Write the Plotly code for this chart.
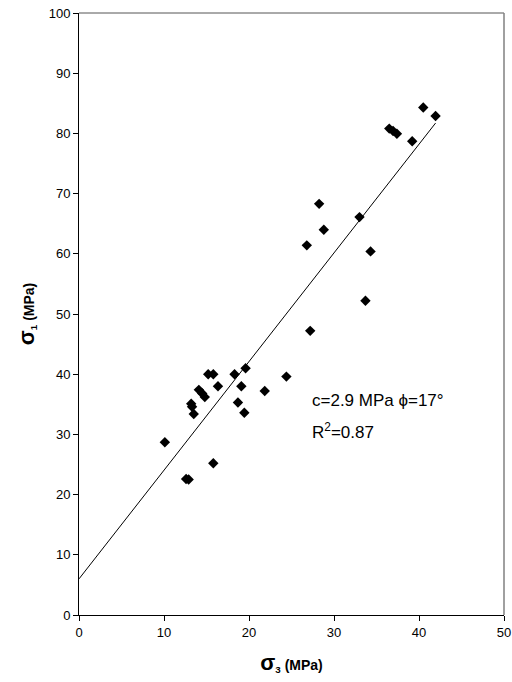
import plotly.graph_objects as go

sigma3 = [10.1, 12.6, 12.9, 15.8, 13.2, 13.3, 13.5, 14.1, 14.5, 14.8, 15.2, 15.8,
          16.35, 18.3, 19.6, 19.1, 18.7, 19.45, 21.85, 24.4, 27.2, 26.8, 28.8,
          28.25, 33.0, 34.3, 33.7, 36.5, 36.95, 37.4, 39.2, 40.5, 41.95]
sigma1 = [28.7, 22.6, 22.5, 25.2, 35.1, 34.6, 33.4, 37.4, 36.8, 36.2, 40.0, 40.0,
          38.0, 40.0, 41.0, 38.0, 35.3, 33.6, 37.2, 39.6, 47.2, 61.4, 64.0,
          68.3, 66.1, 60.4, 52.2, 80.8, 80.4, 79.95, 78.7, 84.3, 82.9]

fit_intercept = 6.0
fit_slope = 1.805
fit_x = [0, max(sigma3)]
fit_y = [fit_intercept + fit_slope * x for x in fit_x]

x_ticks = [0, 10, 20, 30, 40, 50]
y_ticks = [0, 10, 20, 30, 40, 50, 60, 70, 80, 90, 100]

fig = go.Figure()
fig.add_trace(go.Scatter(x=fit_x, y=fit_y, mode="lines",
                         line=dict(color="black", width=1), hoverinfo="skip"))
fig.add_trace(go.Scatter(x=sigma3, y=sigma1, mode="markers",
                         marker=dict(symbol="diamond", size=8, color="black")))

font = "Liberation Sans, Arial, sans-serif"
fig.update_layout(
    width=512, height=682,
    margin=dict(l=79, r=8, t=13, b=67),
    paper_bgcolor="white", plot_bgcolor="white",
    showlegend=False,
    font=dict(family=font, size=13, color="black"),
    xaxis=dict(range=[0, 50], tickvals=x_ticks, showgrid=False, zeroline=False,
               showline=True, linecolor="black", linewidth=1, automargin=False,
               ticks="outside", ticklen=5, tickcolor="black", ticklabeloverflow="allow",
               title=dict(text="<b><span style='font-size:22px'>σ</span><sub>3</sub> (MPa)</b>",
                          font=dict(size=14), standoff=21)),
    yaxis=dict(range=[0, 100], tickvals=y_ticks, showgrid=False, zeroline=False,
               showline=True, linecolor="black", linewidth=1, automargin=False,
               ticks="outside", ticklen=5, tickcolor="black", ticklabeloverflow="allow",
               title=dict(text="<b><span style='font-size:22px'>σ</span><sub>1</sub> (MPa)</b>",
                          font=dict(size=14), standoff=10)),
    shapes=[
        dict(type="line", xref="paper", yref="paper", x0=0, x1=1, y0=1, y1=1,
             line=dict(color="#555555", width=1)),
        dict(type="line", xref="paper", yref="paper", x0=1, x1=1, y0=0, y1=1,
             line=dict(color="#808080", width=1.5)),
    ],
    annotations=[
        dict(x=27.2, y=35.7, xref="x", yref="y", xanchor="left", yanchor="middle",
             text="c=2.9 MPa ϕ=17°", showarrow=False, font=dict(size=17)),
        dict(x=27.2, y=30.6, xref="x", yref="y", xanchor="left", yanchor="middle",
             text="R<sup>2</sup>=0.87", showarrow=False, font=dict(size=17)),
    ],
)

fig.write_html("out.html", config={"displayModeBar": False},
               post_script="document.body.style.margin='0';document.body.style.overflow='hidden';")
